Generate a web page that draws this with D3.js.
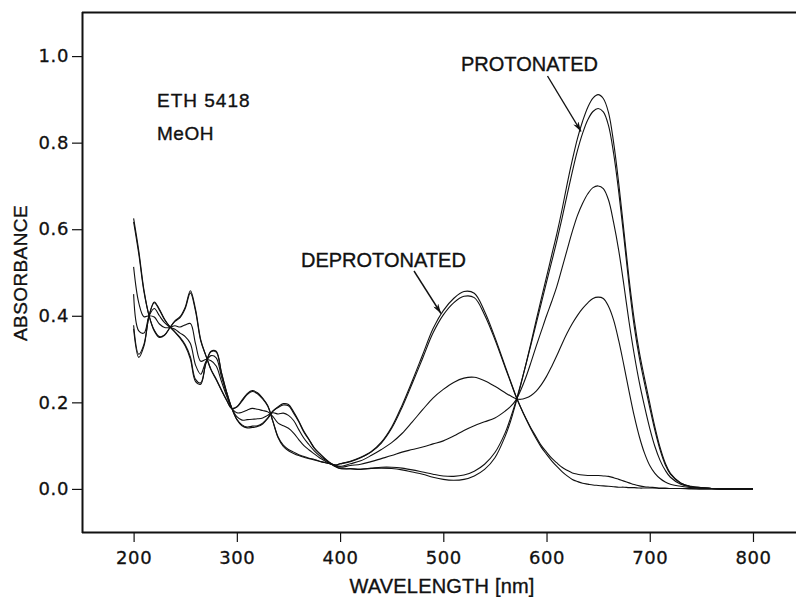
<!DOCTYPE html>
<html><head><meta charset="utf-8">
<script src="https://cdn.jsdelivr.net/npm/d3@7"></script>
<style>
html,body{margin:0;padding:0;background:#fff;}
svg{display:block;}
.tk text{font-family:"DejaVu Sans",sans-serif;font-size:18px;fill:#111;letter-spacing:0.6px;stroke:#111;stroke-width:0.3px;}
.lbl{font-family:"Liberation Sans",Arial,sans-serif;fill:#111;stroke:#111;stroke-width:0.35px;}
</style></head>
<body>
<svg id="chart" width="796" height="597"></svg>
<script>
// ---- data (absorbance) ----
const wavelengths = [200,205,210,215,220,225,230,235,240,245,250,255,260,265,270,275,280,285,290,295,300,305,310,315,320,325,330,335,340,345,350,355,360,365,370,375,380,385,390,395,400,
 410,420,430,440,450,460,470,480,490,500,510,520,530,540,550,
 560,565,570,575,580,585,590,595,600,605,610,615,620,625,630,635,640,645,650,655,660,665,670,675,680,685,690,695,700,705,710,715,720,
 730,740,750,760,770,780,790,800];

const protonated1 = [0.37,0.304,0.33,0.40,0.432,0.415,0.392,0.375,0.362,0.348,0.33,0.30,0.248,0.242,0.29,0.318,0.318,0.27,0.225,0.187,0.16,0.146,0.141,0.142,0.144,0.15,0.163,0.18,0.19,0.197,0.195,0.178,0.157,0.133,0.114,0.095,0.082,0.07,0.06,0.052,0.047,
 0.046,0.045,0.047,0.048,0.047,0.044,0.039,0.034,0.027,0.022,0.02,0.022,0.03,0.045,0.072,
 0.122,0.155,0.196,0.24,0.288,0.338,0.39,0.44,0.49,0.54,0.59,0.645,0.705,0.76,0.81,0.85,0.882,0.903,0.911,0.902,0.87,0.80,0.705,0.595,0.485,0.39,0.315,0.255,0.198,0.143,0.096,0.06,0.036,
 0.014,0.006,0.003,0.001,0,0,0,0];

const protonated2 = [0.378,0.311,0.334,0.40,0.43,0.413,0.391,0.375,0.363,0.35,0.333,0.305,0.253,0.245,0.29,0.317,0.316,0.269,0.224,0.187,0.161,0.148,0.143,0.145,0.146,0.152,0.164,0.18,0.188,0.194,0.192,0.175,0.155,0.131,0.113,0.094,0.082,0.071,0.061,0.053,0.047,
 0.047,0.046,0.048,0.05,0.05,0.048,0.044,0.039,0.034,0.03,0.029,0.032,0.041,0.057,0.084,
 0.13,0.163,0.2,0.242,0.287,0.334,0.382,0.43,0.478,0.525,0.573,0.625,0.68,0.733,0.782,0.822,0.853,0.872,0.879,0.871,0.84,0.775,0.685,0.58,0.47,0.375,0.302,0.243,0.188,0.135,0.09,0.056,0.034,
 0.013,0.005,0.003,0.001,0,0,0,0];

const mixed1 = [0.45,0.365,0.36,0.40,0.417,0.40,0.384,0.374,0.369,0.36,0.352,0.336,0.286,0.265,0.294,0.308,0.303,0.26,0.22,0.187,0.167,0.159,0.16,0.161,0.162,0.164,0.17,0.176,0.173,0.175,0.17,0.158,0.137,0.117,0.102,0.088,0.077,0.068,0.06,0.054,0.05,
 0.054,0.057,0.063,0.07,0.077,0.085,0.091,0.097,0.104,0.111,0.122,0.135,0.146,0.155,0.164,
 0.18,0.19,0.204,0.228,0.258,0.293,0.33,0.365,0.40,0.433,0.468,0.51,0.553,0.595,0.632,0.66,0.682,0.696,0.70,0.694,0.668,0.615,0.55,0.47,0.385,0.31,0.245,0.19,0.14,0.098,0.066,0.043,0.027,
 0.011,0.005,0.002,0.001,0,0,0,0];

const mixed2 = [0.513,0.43,0.398,0.40,0.397,0.381,0.373,0.373,0.377,0.374,0.379,0.382,0.335,0.295,0.299,0.296,0.284,0.249,0.215,0.187,0.176,0.177,0.182,0.186,0.184,0.181,0.178,0.167,0.152,0.146,0.14,0.129,0.114,0.1,0.09,0.081,0.072,0.065,0.059,0.055,0.052,
 0.058,0.065,0.077,0.091,0.107,0.128,0.155,0.183,0.21,0.23,0.246,0.256,0.258,0.25,0.237,
 0.222,0.215,0.209,0.207,0.21,0.216,0.226,0.241,0.26,0.283,0.308,0.335,0.36,0.382,0.401,0.417,0.43,0.44,0.443,0.44,0.422,0.39,0.342,0.285,0.225,0.168,0.12,0.082,0.054,0.036,0.024,0.016,0.011,
 0.006,0.003,0.002,0.001,0,0,0,0];

const deprotonated1 = [0.617,0.543,0.456,0.40,0.367,0.352,0.356,0.372,0.387,0.396,0.417,0.453,0.41,0.342,0.308,0.276,0.254,0.229,0.206,0.186,0.189,0.203,0.218,0.225,0.22,0.208,0.191,0.156,0.12,0.101,0.091,0.085,0.079,0.075,0.071,0.068,0.064,0.061,0.058,0.055,0.058,
 0.063,0.072,0.085,0.106,0.14,0.188,0.244,0.302,0.36,0.402,0.43,0.445,0.442,0.402,0.345,
 0.28,0.248,0.216,0.188,0.163,0.14,0.12,0.10,0.085,0.071,0.06,0.05,0.043,0.037,0.034,0.032,0.031,0.031,0.031,0.03,0.029,0.026,0.022,0.018,0.014,0.01,0.007,0.005,0.004,0.003,0.002,0.002,0.001,
 0.001,0.001,0,0,0,0,0,0];

const deprotonated2 = [0.625,0.55,0.46,0.40,0.365,0.35,0.355,0.372,0.388,0.398,0.42,0.458,0.415,0.345,0.308,0.275,0.252,0.228,0.205,0.186,0.19,0.205,0.22,0.227,0.222,0.21,0.192,0.155,0.118,0.098,0.088,0.082,0.077,0.073,0.07,0.067,0.064,0.061,0.058,0.055,0.058,
 0.064,0.073,0.086,0.108,0.143,0.193,0.25,0.31,0.37,0.412,0.44,0.456,0.452,0.41,0.35,
 0.283,0.25,0.217,0.188,0.162,0.138,0.116,0.096,0.08,0.065,0.052,0.04,0.03,0.022,0.017,0.013,0.011,0.009,0.008,0.007,0.006,0.005,0.004,0.004,0.003,0.003,0.002,0.002,0.002,0.002,0.001,0.001,0.001,
 0.001,0,0,0,0,0,0,0];

const seriesList = [protonated1, protonated2, mixed1, mixed2, deprotonated1, deprotonated2];
const xTicks = [200,300,400,500,600,700,800];
const yTicks = [0.0,0.2,0.4,0.6,0.8,1.0];

// ---- drawing ----
const svg = d3.select("#chart");
svg.append("rect").attr("width",796).attr("height",597).attr("fill","#fff");

const x = d3.scaleLinear().domain([150,850]).range([82,804.6]);
const y = d3.scaleLinear().domain([-0.1,1.1]).range([532.2,12.8]);

// frame (left, top, bottom; right side runs off the page)
const fr = svg.append("g").attr("stroke","#111").attr("stroke-width",2).attr("fill","none");
fr.append("line").attr("x1",82.5).attr("x2",82.5).attr("y1",12).attr("y2",533);
fr.append("line").attr("x1",82).attr("x2",796).attr("y1",12.5).attr("y2",12.5);
fr.append("line").attr("x1",82).attr("x2",796).attr("y1",532.5).attr("y2",532.5);

const yAxis = svg.append("g").attr("class","tk").attr("transform","translate(82,0)")
  .call(d3.axisLeft(y).tickValues(yTicks).tickFormat(d3.format(".1f")).tickSize(10).tickPadding(3));
yAxis.select(".domain").remove();
yAxis.selectAll(".tick line").attr("stroke","#111").attr("stroke-width",1.2);

const xAxis = svg.append("g").attr("class","tk").attr("transform","translate(0,533)")
  .call(d3.axisBottom(x).tickValues(xTicks).tickFormat(d3.format("d")).tickSize(9).tickPadding(9));
xAxis.select(".domain").remove();
xAxis.selectAll(".tick line").attr("stroke","#111").attr("stroke-width",1.2);

// curves
const line = d3.line()
  .x((d,i)=>x(wavelengths[i]))
  .y(d=>y(d))
  .curve(d3.curveCatmullRom.alpha(0.5));
svg.append("g").selectAll("path").data(seriesList).join("path")
  .attr("d", line)
  .attr("fill","none")
  .attr("stroke","#111")
  .attr("stroke-width",1.1);

// axis titles
svg.append("text").attr("class","lbl")
  .attr("transform","translate(27,273) rotate(-90)")
  .attr("text-anchor","middle").attr("font-size",19).attr("letter-spacing",0.4)
  .text("ABSORBANCE");
svg.append("text").attr("class","lbl")
  .attr("x",442).attr("y",593).attr("text-anchor","middle").attr("font-size",20).attr("letter-spacing",0.2)
  .text("WAVELENGTH [nm]");

// annotations
svg.append("text").attr("class","lbl").attr("x",157).attr("y",107).attr("font-size",19).attr("letter-spacing",1)
  .text("ETH 5418");
svg.append("text").attr("class","lbl").attr("x",157).attr("y",140).attr("font-size",19).attr("letter-spacing",0.5)
  .text("MeOH");
svg.append("text").attr("class","lbl").attr("x",461).attr("y",70.5).attr("font-size",20)
  .text("PROTONATED");
svg.append("text").attr("class","lbl").attr("x",301).attr("y",266.5).attr("font-size",20)
  .text("DEPROTONATED");

const defs = svg.append("defs");
defs.append("marker").attr("id","ah").attr("viewBox","0 0 10 6").attr("refX",10).attr("refY",3)
  .attr("markerWidth",10).attr("markerHeight",6).attr("markerUnits","userSpaceOnUse").attr("orient","auto")
  .append("path").attr("d","M0,0 L10,3 L0,6 L3,3 Z").attr("fill","#111");

svg.append("line").attr("x1",547.5).attr("y1",76).attr("x2",581).attr("y2",131.5)
  .attr("stroke","#111").attr("stroke-width",1.4).attr("marker-end","url(#ah)");
svg.append("line").attr("x1",414).attr("y1",271).attr("x2",441).attr("y2",313.5)
  .attr("stroke","#111").attr("stroke-width",1.4).attr("marker-end","url(#ah)");
</script>
</body></html>
